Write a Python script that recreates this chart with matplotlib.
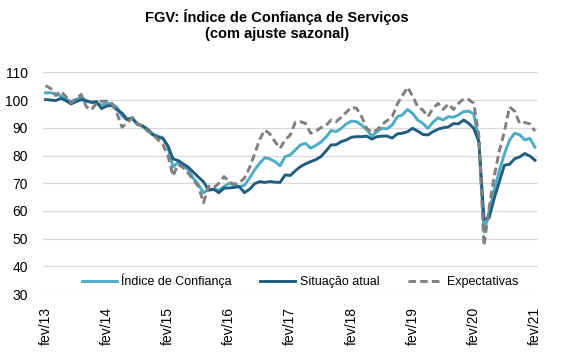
import matplotlib
matplotlib.use("Agg")
import matplotlib.pyplot as plt
import numpy as np

plt.rcParams['font.family'] = ['Liberation Sans', 'DejaVu Sans']

# Monthly data, fev/2013 .. fev/2021 (97 months)
tick_labels = ["fev/13", "fev/14", "fev/15", "fev/16", "fev/17",
               "fev/18", "fev/19", "fev/20", "fev/21"]

indice_confianca = [
    102.6, 102.6, 102.3, 101.4, 100.4, 99.4, 100.3, 101.0, 99.8, 99.2, 98.6, 98.2,   # 2013
    99.0, 98.6, 97.4, 94.3, 92.8, 93.3, 91.6, 90.4, 89.2, 87.8, 87.0, 86.4,          # 2014
    83.0, 75.8, 77.6, 76.4, 74.8, 71.8, 69.5, 66.5, 68.0, 67.8, 67.5, 68.8,          # 2015
    70.0, 69.4, 68.8, 69.2, 71.8, 74.8, 77.2, 79.2, 78.8, 77.8, 76.3, 79.6,          # 2016
    80.2, 82.0, 83.8, 84.4, 82.6, 83.6, 84.8, 86.6, 89.0, 88.6, 89.8, 91.4,          # 2017
    92.4, 92.2, 91.0, 89.3, 87.0, 88.6, 89.8, 89.6, 91.0, 94.0, 94.6, 96.6,          # 2018
    95.2, 92.8, 91.6, 89.8, 92.0, 93.6, 92.8, 94.0, 93.8, 94.6, 95.8, 96.0,          # 2019
    95.0, 85.0, 52.5, 59.5, 67.5, 74.5, 80.5, 85.5, 88.0, 87.5, 85.6, 86.2,          # 2020
    83.0,                                                                             # fev/21
]

situacao_atual = [
    100.2, 100.0, 99.8, 100.6, 99.8, 98.6, 99.4, 100.2, 99.6, 99.2, 99.4, 96.9,
    97.9, 98.0, 96.5, 95.3, 93.0, 93.6, 91.2, 90.8, 89.5, 87.5, 86.6, 86.2,
    83.5, 78.8, 78.2, 77.0, 75.8, 74.0, 72.2, 70.5, 67.5, 67.8, 66.6, 68.2,
    68.3, 68.5, 68.8, 66.6, 67.8, 69.8, 70.6, 70.3, 70.6, 70.4, 70.3, 73.0,
    72.8, 74.5, 76.0, 77.0, 77.8, 78.5, 79.6, 81.6, 83.8, 83.9, 85.0, 85.6,
    86.6, 86.8, 86.8, 87.0, 85.9, 86.8, 87.0, 87.0, 86.3, 87.8, 88.0, 88.6,
    89.8, 88.8, 87.6, 87.4, 88.6, 89.5, 90.0, 90.3, 91.5, 91.4, 92.8, 91.6,
    89.8, 85.0, 57.0, 57.5, 64.5, 70.5, 76.5, 76.8, 78.8, 79.5, 80.7, 79.8,
    78.3,
]

expectativas = [
    105.2, 104.2, 101.6, 103.2, 101.2, 99.0, 100.4, 102.0, 97.6, 96.4, 99.0, 99.6,
    99.6, 98.8, 95.2, 90.2, 91.8, 93.6, 91.4, 90.8, 88.8, 87.6, 85.8, 84.0,
    80.0, 72.6, 76.8, 75.6, 73.6, 71.2, 68.8, 63.0, 69.0, 68.4, 70.0, 72.4,
    70.6, 69.6, 70.2, 71.8, 75.5, 80.5, 85.8, 89.2, 87.8, 85.0, 82.6, 85.6,
    87.4, 92.0, 92.2, 91.6, 88.0, 88.8, 90.0, 90.8, 92.8, 92.2, 93.8, 95.6,
    97.4, 97.0, 94.0, 89.8, 88.4, 89.2, 91.2, 92.6, 94.0, 98.6, 101.6, 104.6,
    101.4, 97.6, 96.4, 94.0, 97.0, 98.8, 96.6, 98.6, 96.6, 98.8, 100.4, 100.2,
    98.8, 87.0, 47.5, 61.0, 72.5, 81.5, 88.5, 97.5, 96.0, 91.6, 91.9, 91.4,
    88.8,
]

series_names = ["Índice de Confiança", "Situação atual", "Expectativas"]

months = np.arange(len(indice_confianca))

fig = plt.figure(figsize=(5.72, 3.55), dpi=100)
ax = fig.add_axes([43/572, 1 - 294.2/355, (537.5 - 43)/572, (294.2 - 72.3)/355])

ax.plot(months, indice_confianca, color="#4BACC6", lw=2.1, label=series_names[0],
        solid_joinstyle="round")
ax.plot(months, situacao_atual, color="#205E80", lw=2.1, label=series_names[1],
        solid_joinstyle="round")
ax.plot(months, expectativas, color="#808080", lw=2.1, label=series_names[2],
        linestyle=(0, (2.6, 1.4)))

ax.set_xlim(-0.5, len(months) - 0.5)
ax.set_ylim(30, 110)
ax.set_yticks(np.arange(30, 111, 10))
ax.set_xticks(np.arange(0, len(months), 12))
ax.set_xticklabels(tick_labels, rotation=90)

ax.grid(axis="y", color="#D9D9D9", lw=0.9)
ax.set_axisbelow(True)
for s in ax.spines.values():
    s.set_visible(False)
ax.tick_params(axis="both", length=0, labelsize=10, colors="#000000")
ax.tick_params(axis="y", pad=11)
ax.tick_params(axis="x", pad=9)

leg = ax.legend(loc="center", bbox_to_anchor=(0.52, 0.06), ncol=3, frameon=False,
                fontsize=9, handlelength=2.8, handletextpad=0.35, columnspacing=2.3,
                borderaxespad=0)

fig.text(277/572, 1 - 25/355, "FGV: Índice de Confiança de Serviços\n(com ajuste sazonal)",
         ha="center", va="center", fontsize=10.5, fontweight="bold", linespacing=1.15)

fig.savefig("out.png", dpi=100)
